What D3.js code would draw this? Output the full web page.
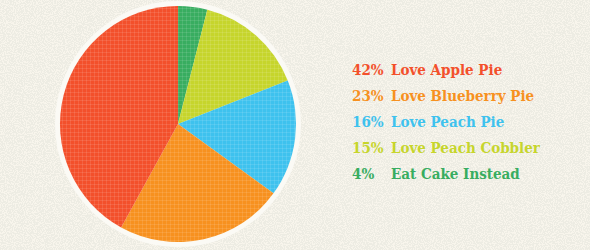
<!DOCTYPE html>
<html>
<head>
<meta charset="utf-8">
<script src="https://d3js.org/d3.v7.min.js"></script>
<style>
  body { margin: 0; background: #f8f5ec; }
  svg { display: block; }
  .legend text { font-family: "DejaVu Serif Condensed", "DejaVu Serif", serif; font-weight: bold; font-size: 15px; }
</style>
</head>
<body>
<div id="chart"></div>
<script>
var svgWidth = 590;
var svgHeight = 250;

// data, clockwise from 12 o'clock
var labels = ["Eat Cake Instead", "Love Peach Cobbler", "Love Peach Pie", "Love Blueberry Pie", "Love Apple Pie"];
var values = [4, 15, 16, 23, 42];
var colors = ["#38ad60", "#c6d52c", "#3ec2ee", "#f7911f", "#f3502b"];
// legend runs from largest to smallest
var legendOrder = [4, 3, 2, 1, 0];

var cx = 178, cy = 124, radius = 118;

var svg = d3.select("#chart")
  .append("svg")
  .attr("width", svgWidth)
  .attr("height", svgHeight);

var defs = svg.append("defs");

// speckled paper background
var paper = defs.append("filter").attr("id", "paper").attr("x", 0).attr("y", 0).attr("width", 1).attr("height", 1);
paper.append("feTurbulence").attr("type", "fractalNoise").attr("baseFrequency", 0.9).attr("numOctaves", 2).attr("seed", 3);
paper.append("feColorMatrix").attr("values", "0 0 0 0 0.55  0 0 0 0 0.6  0 0 0 0 0.55  0 0 0 -14 7.9");
paper.append("feComposite").attr("in2", "SourceGraphic").attr("operator", "in");

// fine crosshatch on the slices
var hatch = defs.append("pattern")
  .attr("id", "hatch")
  .attr("width", 4)
  .attr("height", 4)
  .attr("patternUnits", "userSpaceOnUse");
hatch.append("rect").attr("width", 4).attr("height", 1).attr("fill", "#fff").attr("opacity", 0.1);
hatch.append("rect").attr("width", 1).attr("height", 4).attr("fill", "#fff").attr("opacity", 0.1);

svg.append("rect")
  .attr("width", svgWidth)
  .attr("height", svgHeight)
  .attr("fill", "#f8f5ec");
svg.append("rect")
  .attr("width", svgWidth)
  .attr("height", svgHeight)
  .attr("fill", "#f8f5ec")
  .attr("filter", "url(#paper)")
  .attr("opacity", 0.2);

var chartGroup = svg.append("g")
  .attr("transform", `translate(${cx}, ${cy})`);

// light halo behind the pie
chartGroup.append("circle")
  .attr("r", radius + 5)
  .attr("fill", "#fbfaf5");

var pie = d3.pie().sort(null).value(d => d);
var arc = d3.arc().innerRadius(0).outerRadius(radius);

var slices = chartGroup.selectAll(".slice")
  .data(pie(values))
  .enter()
  .append("g")
  .classed("slice", true);

slices.append("path")
  .attr("d", arc)
  .attr("fill", (d, i) => colors[i]);

slices.append("path")
  .attr("d", arc)
  .attr("fill", "url(#hatch)");

// legend
var yScale = d3.scaleBand()
  .domain(legendOrder)
  .range([57, 187]);

var legend = svg.append("g").classed("legend", true);

var rows = legend.selectAll("g")
  .data(legendOrder)
  .enter()
  .append("g")
  .attr("transform", d => `translate(0, ${yScale(d) + yScale.bandwidth() / 2 + 5})`);

rows.append("text")
  .attr("x", 352)
  .attr("fill", d => colors[d])
  .text(d => values[d] + "%");

rows.append("text")
  .attr("x", 391)
  .attr("fill", d => colors[d])
  .text(d => labels[d]);
</script>
</body>
</html>
